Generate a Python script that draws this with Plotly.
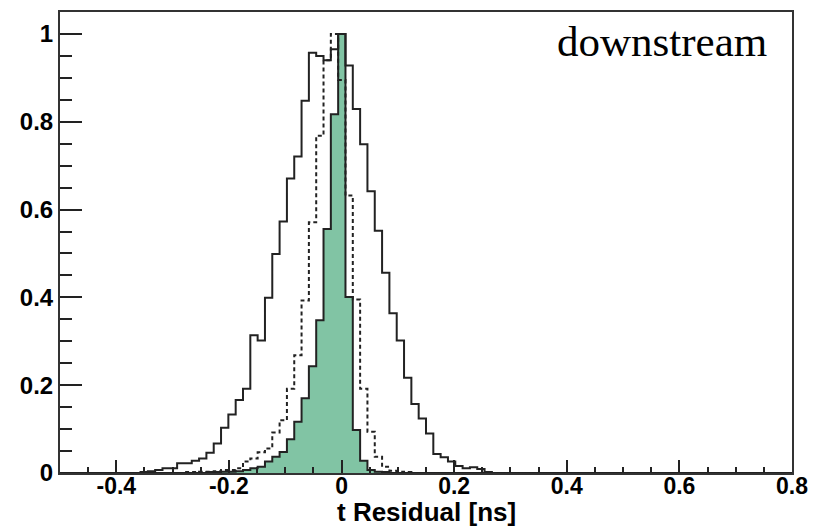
import numpy as np
import plotly.graph_objects as go

# Histogram binning: 100 bins over [-0.5, 0.8]
n_bins = 100
x_min, x_max = -0.5, 0.8

# Solid histogram (normalised to max = 1)
solid = [
    0, 0, 0, 0, 0, 0, 0, 0, 0, 0,
    0, 0.002, 0.004, 0.007, 0.011, 0.011, 0.022, 0.022, 0.028, 0.033,
    0.046, 0.067, 0.103, 0.133, 0.166, 0.192, 0.314, 0.302, 0.399, 0.499,
    0.573, 0.671, 0.721, 0.848, 0.957, 0.950, 0.940, 0.965, 1.000, 0.928,
    0.829, 0.749, 0.642, 0.552, 0.456, 0.364, 0.302, 0.217, 0.157, 0.124,
    0.090, 0.043, 0.036, 0.026, 0.016, 0.011, 0.013, 0.009, 0.002, 0,
    0, 0, 0, 0, 0, 0, 0, 0, 0, 0,
    0, 0, 0, 0, 0, 0, 0, 0, 0, 0,
    0, 0, 0, 0, 0, 0, 0, 0, 0, 0,
    0, 0, 0, 0, 0, 0, 0, 0, 0, 0,
]

# Dashed histogram
dashed = [
    0, 0, 0, 0, 0, 0, 0, 0, 0, 0,
    0, 0, 0, 0, 0, 0, 0, 0.002, 0.002, 0.003,
    0.003, 0.004, 0.007, 0.007, 0.011, 0.026, 0.033, 0.047, 0.056, 0.092,
    0.120, 0.192, 0.268, 0.393, 0.571, 0.768, 0.940, 1.000, 0.895, 0.632,
    0.395, 0.192, 0.094, 0.037, 0.014, 0.005, 0.003, 0.002, 0, 0,
    0, 0, 0, 0, 0, 0, 0, 0, 0, 0,
    0, 0, 0, 0, 0, 0, 0, 0, 0, 0,
    0, 0, 0, 0, 0, 0, 0, 0, 0, 0,
    0, 0, 0, 0, 0, 0, 0, 0, 0, 0,
    0, 0, 0, 0, 0, 0, 0, 0, 0, 0,
]

# Filled (green) histogram
filled = [
    0, 0, 0, 0, 0, 0, 0, 0, 0, 0,
    0, 0, 0, 0, 0, 0, 0, 0, 0, 0,
    0.002, 0.002, 0.003, 0.003, 0.004, 0.007, 0.011, 0.014, 0.026, 0.037,
    0.048, 0.077, 0.117, 0.170, 0.243, 0.348, 0.556, 0.817, 1.000, 0.401,
    0.098, 0.028, 0.007, 0.003, 0.002, 0, 0, 0, 0, 0,
    0, 0, 0, 0, 0, 0, 0, 0, 0, 0,
    0, 0, 0, 0, 0, 0, 0, 0, 0, 0,
    0, 0, 0, 0, 0, 0, 0, 0, 0, 0,
    0, 0, 0, 0, 0, 0, 0, 0, 0, 0,
    0, 0, 0, 0, 0, 0, 0, 0, 0, 0,
]

x_tickvals = [-0.4, -0.2, 0, 0.2, 0.4, 0.6, 0.8]
x_ticktext = ["-0.4", "-0.2", "0", "0.2", "0.4", "0.6", "0.8"]
y_tickvals = [0, 0.2, 0.4, 0.6, 0.8, 1.0]
y_ticktext = ["0", "0.2", "0.4", "0.6", "0.8", "1"]
x_title = "t Residual [ns]"
label_text = "downstream"

edges = np.linspace(x_min, x_max, n_bins + 1)


def step_y(vals):
    return list(vals) + [vals[-1]]


fig = go.Figure()
fig.add_trace(go.Scatter(
    x=edges, y=step_y(filled), mode="lines", line_shape="hv",
    line=dict(color="#222222", width=2), fill="tozeroy",
    fillcolor="rgb(129,196,164)", showlegend=False, hoverinfo="skip"))
fig.add_trace(go.Scatter(
    x=edges, y=step_y(solid), mode="lines", line_shape="hv",
    line=dict(color="#222222", width=2), showlegend=False, hoverinfo="skip"))
fig.add_trace(go.Scatter(
    x=edges, y=step_y(dashed), mode="lines", line_shape="hv",
    line=dict(color="#222222", width=2, dash="4px,3px"),
    showlegend=False, hoverinfo="skip"))

tick_font = dict(family="Liberation Sans, Arial, sans-serif", size=24,
                 color="black", weight="bold")
x_tick_font = dict(family="Liberation Sans, Arial, sans-serif", size=23,
                   color="black", weight="bold")

fig.update_layout(
    width=825, height=528,
    margin=dict(l=60, r=33, t=10, b=55),
    paper_bgcolor="white", plot_bgcolor="white",
    xaxis=dict(range=[x_min, x_max], tickvals=x_tickvals, ticktext=x_ticktext,
               ticks="inside", ticklen=13, tickwidth=1.5, tickcolor="#222",
               minor=dict(ticks="inside", dtick=0.05, tick0=0, ticklen=6,
                          tickwidth=1.5, tickcolor="#222"),
               showgrid=False, zeroline=False, showline=True, mirror=True,
               linecolor="#333", linewidth=2, tickfont=x_tick_font,
               ticklabelstandoff=-9),
    yaxis=dict(range=[0, 1.05], tickvals=y_tickvals, ticktext=y_ticktext,
               ticks="inside", ticklen=22, tickwidth=1.5, tickcolor="#222",
               minor=dict(ticks="inside", dtick=0.05, tick0=0, ticklen=12,
                          tickwidth=1.5, tickcolor="#222"),
               showgrid=False, zeroline=False, showline=True, mirror=True,
               linecolor="#333", linewidth=2, tickfont=tick_font),
    annotations=[
        dict(text=x_title, xref="paper", yref="paper", x=0.5, y=-0.0842,
             xanchor="center", yanchor="middle", showarrow=False,
             font=dict(family="Liberation Sans, Arial, sans-serif", size=26,
                       color="black", weight="bold")),
        dict(text=label_text, xref="paper", yref="paper", x=0.9686, y=0.935,
             xanchor="right", yanchor="middle", showarrow=False,
             font=dict(family="Liberation Serif, Times New Roman, serif",
                       size=43, color="black")),
    ],
)

fig.write_html("out.html")
